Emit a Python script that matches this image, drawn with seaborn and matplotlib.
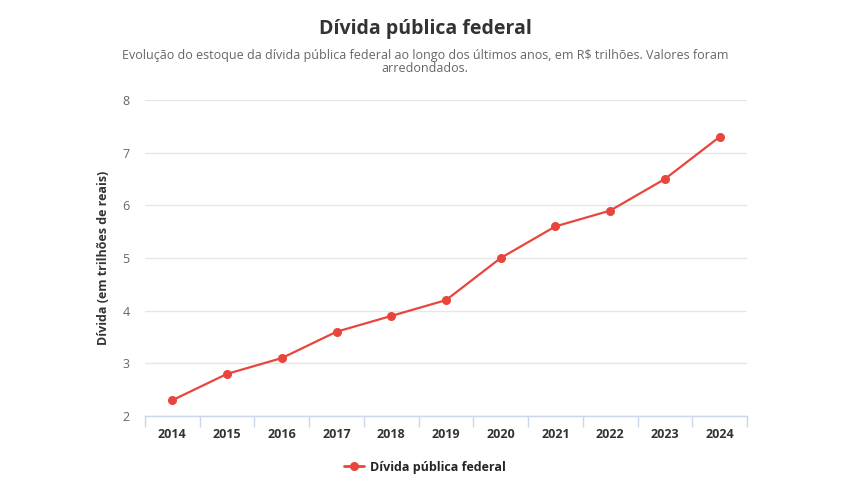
import matplotlib
matplotlib.use("Agg")
import matplotlib.pyplot as plt
import seaborn as sns
import pandas as pd

years = ["2014", "2015", "2016", "2017", "2018", "2019", "2020", "2021", "2022", "2023", "2024"]
values = [2.3, 2.8, 3.1, 3.6, 3.9, 4.2, 5.0, 5.6, 5.9, 6.5, 7.3]
y_ticks = [2, 3, 4, 5, 6, 7, 8]
series_name = "Dívida pública federal"

sns.set_theme(style="white")
plt.rcParams['font.family'] = ['Open Sans', 'DejaVu Sans']

df = pd.DataFrame({"idx": range(len(years)), "valor": values, "serie": series_name})

fig = plt.figure(figsize=(8.5, 4.96), dpi=100)
ax = fig.add_axes([145/850, 80/496, (747-145)/850, (416-100)/496])

red = "#e8453c"
sns.lineplot(data=df, x="idx", y="valor", hue="serie", palette=[red], ax=ax,
             marker="o", markersize=6.5, linewidth=1.6, markeredgewidth=0, legend=False)

ax.set_xlim(-0.5, len(years) - 0.5)
ax.set_ylim(2, 8)
ax.set_yticks(y_ticks)
ax.set_yticklabels([str(t) for t in y_ticks])
ax.set_xticks(range(len(years)))
ax.set_xticklabels(years, fontweight="bold", fontsize=9, color="#333333")
ax.set_xticks([i - 0.5 for i in range(len(years) + 1)], minor=True)
ax.tick_params(axis="x", which="major", bottom=False, length=0, pad=9)
ax.tick_params(axis="x", which="minor", bottom=True, length=8, color="#ccd6eb", width=1, direction="out")
ax.tick_params(axis="y", left=False, length=0, labelsize=9, labelcolor="#666666", pad=11)

ax.grid(axis="y", color="#e6e6e6", linewidth=1)
ax.grid(axis="x", visible=False)
for s in ["top", "right", "left"]:
    ax.spines[s].set_visible(False)
ax.spines["bottom"].set_color("#ccd6eb")
ax.spines["bottom"].set_linewidth(1)

ax.set_xlabel("")
ax.set_ylabel("Dívida (em trilhões de reais)", fontsize=9, fontweight="bold", color="#333333", labelpad=9)

fig.text(0.5, 1 - 29/496, "Dívida pública federal", ha="center", va="center",
         fontsize=14, fontweight="bold", color="#333333")
fig.text(0.5, 1 - 62/496, "Evolução do estoque da dívida pública federal ao longo dos últimos anos, em R$ trilhões. Valores foram\narredondados.",
         ha="center", va="center", fontsize=9, color="#666666", linespacing=0.95)

from matplotlib.lines import Line2D
h = Line2D([0], [0], color=red, linewidth=2, marker="o", markersize=6.5, markeredgewidth=0)
fig.legend([h], [series_name], loc="center", bbox_to_anchor=(0.5, 1 - 467/496),
           frameon=False, prop={"weight": "bold", "size": 9}, handlelength=1.6, handletextpad=0.5)

fig.savefig("out.png", dpi=100)
